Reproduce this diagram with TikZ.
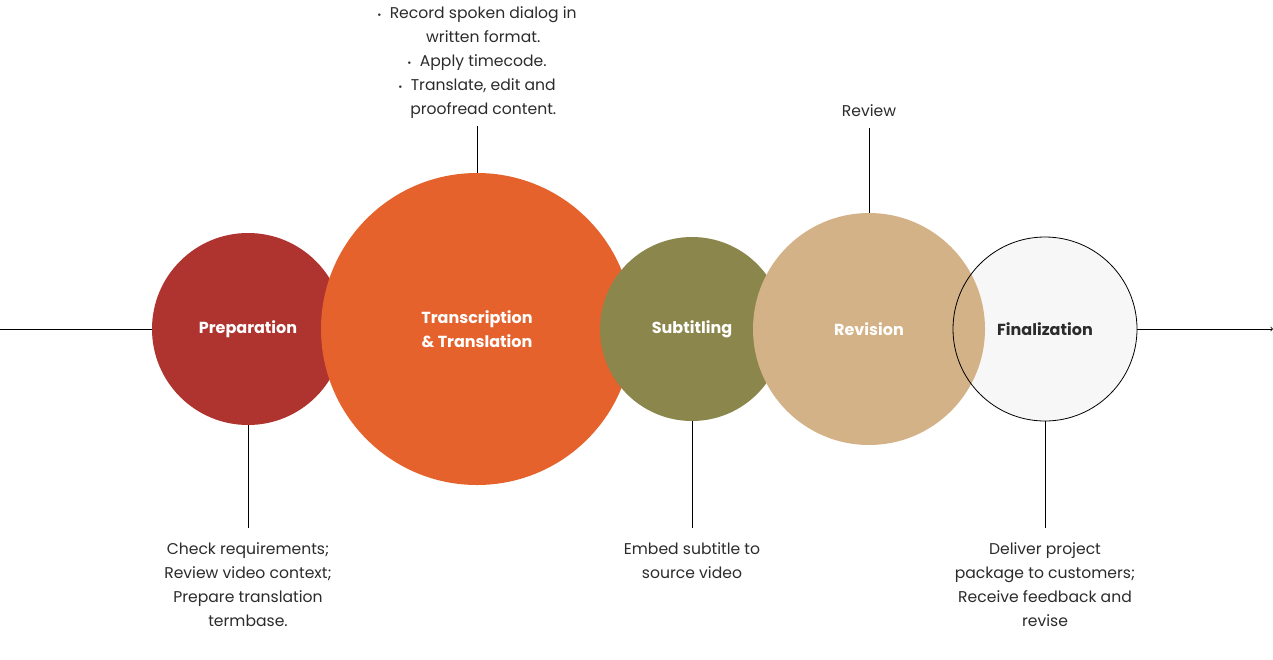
\documentclass[tikz,border=0pt]{standalone}
\usepackage{fontspec}
\setmainfont{Poppins}
\usetikzlibrary{positioning}

\definecolor{prepred}{HTML}{AF332E}
\definecolor{transorange}{HTML}{E5622D}
\definecolor{subolive}{HTML}{8B864B}
\definecolor{revtan}{HTML}{D4B287}
\definecolor{finwhite}{HTML}{F7F7F7}
\definecolor{notegray}{HTML}{2B2B2B}

\newcommand{\dotmark}{{\fontsize{10}{10}\selectfont\raisebox{0.5pt}{•}}}

\tikzset{
  stage/.style={circle, inner sep=0pt, text=white, align=center,
    font=\bfseries\fontsize{16}{24}\selectfont},
  note/.style={align=center, text=notegray, inner sep=2pt,
    font=\fontsize{15.6}{24}\selectfont},
  tick/.style={draw=black, line width=0.8pt}
}

\begin{document}
\begin{tikzpicture}[x=1pt,y=-1pt]
    \useasboundingbox (0,0) rectangle (1273,659);
    % the five stages
    \node[stage, fill=prepred, minimum size=192] (prep) at (248,329) {Preparation};
    \node[stage, fill=transorange, minimum size=312] (trans) at (477,329) {Transcription\\\& Translation};
    \node[stage, fill=subolive, minimum size=184] (sub) at (692,329) {Subtitling};
    \node[stage, fill=finwhite, minimum size=184] (finback) at (1045,329) {};
    \node[stage, fill=revtan, minimum size=232] (rev) at (869,329) {Revision};
    \node[stage, draw=black, line width=0.8pt, text=notegray, minimum size=184] (fin) at (finback) {Finalization};

    % in and out
    \coordinate (start) at (0,329);
    \coordinate (finish) at (1273,329);
    \draw[tick] (start) -- (prep.west);
    \draw[tick,->] (fin.east) -- (finish);

    % notes
    \node[note] (transnote) at (477,63) {\dotmark\ \ Record spoken dialog in\\
      \ \ \ written format.\\
      \dotmark\ \ Apply timecode.\\
      \dotmark\ \ Translate, edit and\\
      \ \ \ proofread content.};
    \node[note] (revnote) at (869,111) {Review};
    \node[note, anchor=north] (prepnote) at (248,540) {Check requirements;\\Review video context;\\Prepare translation\\termbase.};
    \node[note, anchor=north] (subnote) at (692,540) {Embed subtitle to\\source video};
    \node[note, anchor=north] (finnote) at (1045,540) {Deliver project\\package to customers;\\Receive feedback and\\revise};

    \draw[tick] (trans.north) -- ++(0,-47);
    \draw[tick] (rev.north) -- ++(0,-85);
    \draw[tick] (prep.south) -- (prep.south |- 0,528);
    \draw[tick] (sub.south) -- (sub.south |- 0,528);
    \draw[tick] (fin.south) -- (fin.south |- 0,528);
\end{tikzpicture}
\end{document}
